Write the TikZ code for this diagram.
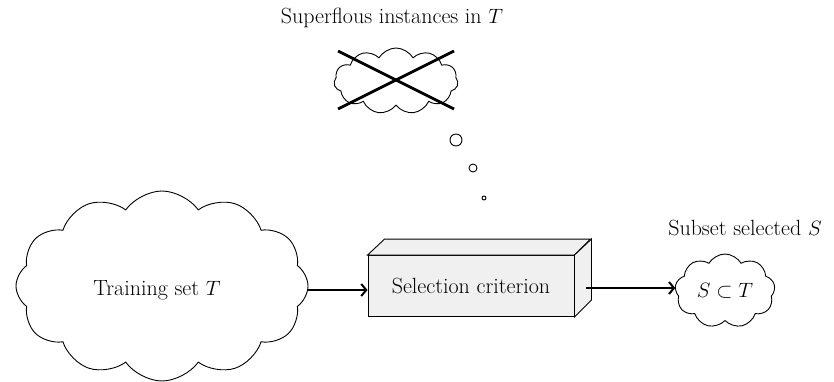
\documentclass[tikz,border=0pt]{standalone}
\usetikzlibrary{shapes.symbols,arrows.meta}
\begin{document}
\begin{tikzpicture}[x=1pt,y=-1pt,
  every node/.style={font=\fontsize{22}{26}\selectfont},
  puff/.style={cloud, draw, line width=0.9pt, fill=white, inner sep=0pt},
  flow/.style={line width=2pt, -{Straight Barb[length=5pt,width=12pt,line width=2pt]}},
  facefill/.style={fill=gray!12, draw, line width=0.9pt},
  strike/.style={line width=2.8pt},
  bubble/.style={circle, draw, line width=0.9pt, inner sep=0pt}]
\useasboundingbox (0,0) rectangle (834,381);

% input cloud
\node[puff, cloud puffs=12, cloud puff arc=110, minimum width=292, minimum height=190] (train) at (162,286) {};
\node (traintxt) at (157,290) {Training set $T$};

% selection box drawn as a cuboid
\node[facefill, minimum width=206, minimum height=61, inner sep=0pt] (box) at (471,286) {};
\coordinate (tl) at (box.north west);
\coordinate (tr) at (box.north east);
\coordinate (br) at (box.south east);
\draw[facefill] (tl) -- ++(17,-16) -- ++(206,0) -- (tr) -- cycle;
\draw[facefill] (tr) -- ++(17,-16) -- ++(0,61) -- (br) -- cycle;
\node (boxtxt) at (box.center) {Selection criterion};

% output cloud
\node[puff, cloud puffs=9, cloud puff arc=120, minimum width=100, minimum height=74] (subset) at (725,291) {};
\node (subsettxt) at (subset.center) {$S\subset T$};
\node (subsetlbl) at (745,228) {Subset selected $S$};

% arrows
\draw[flow] (train.east |- box.center) ++(0,4) coordinate (a1) -- (box.west |- a1);
\coordinate (b1) at ([xshift=12pt,yshift=-2pt]box.east);
\draw[flow] (b1) -- (subset.west |- b1);

% discarded cloud with thought bubbles
\node[puff, cloud puffs=11, cloud puff arc=120, minimum width=124, minimum height=66] (super) at (396,81) {};
\draw[strike] ([shift={(-58,-30)}]super.center) -- ([shift={(58,28)}]super.center);
\draw[strike] ([shift={(-58,28)}]super.center) -- ([shift={(58,-30)}]super.center);
\node (superlbl) at (392,18) {Superflous instances in $T$};
\node[bubble, minimum size=12] (c1) at (456,140) {};
\node[bubble, minimum size=8] (c2) at (473,168) {};
\node[bubble, minimum size=4] (c3) at (484,198) {};
\end{tikzpicture}
\end{document}
